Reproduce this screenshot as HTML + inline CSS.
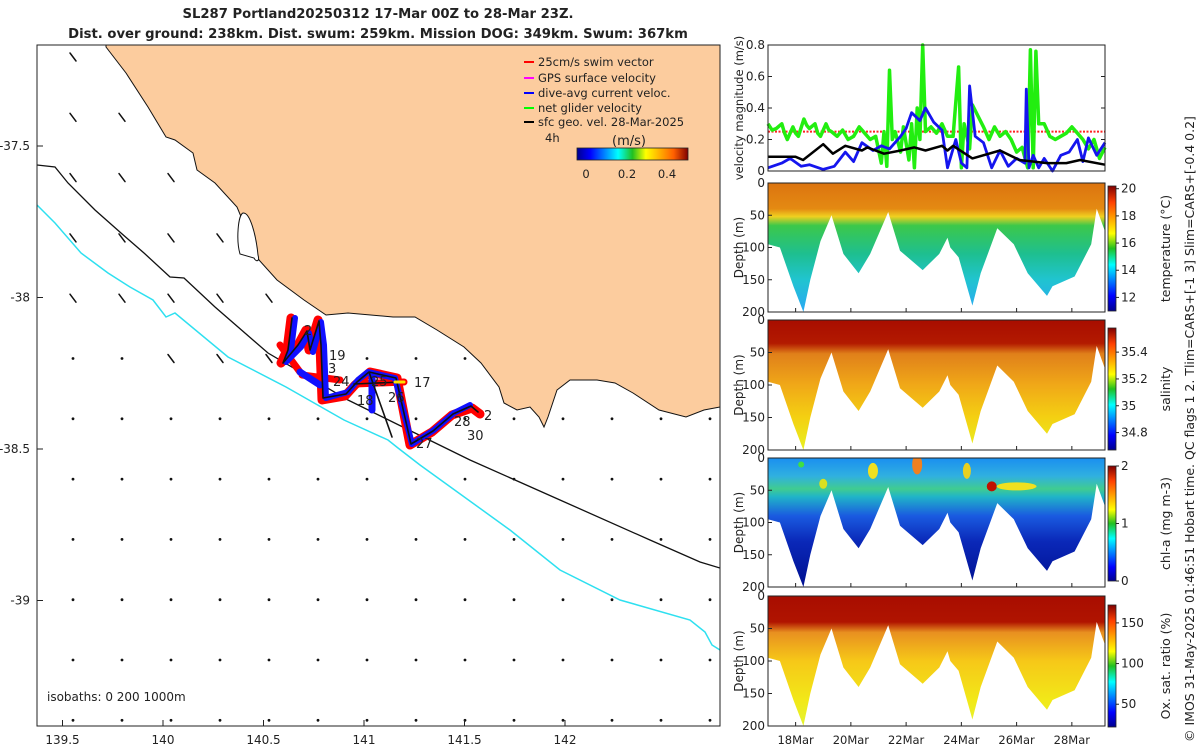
<!DOCTYPE html>
<html><head><meta charset="utf-8"><style>
body{margin:0;background:#fff;font-family:"Liberation Sans",sans-serif}
svg text{font-family:"DejaVu Sans","Liberation Sans",sans-serif;fill:#222}
</style></head><body>
<svg id="c" width="1200" height="750" viewBox="0 0 1200 750" xmlns="http://www.w3.org/2000/svg">
<defs>
<linearGradient id="gT" x1="0" y1="0" x2="0" y2="1">
<stop offset="0" stop-color="#dc7410"/><stop offset="0.2" stop-color="#e48a12"/><stop offset="0.26" stop-color="#f0d020"/><stop offset="0.33" stop-color="#3cc84a"/><stop offset="0.55" stop-color="#1ebf90"/><stop offset="0.75" stop-color="#20c4d0"/><stop offset="1" stop-color="#2aa8f4"/></linearGradient>
<linearGradient id="gS" x1="0" y1="0" x2="0" y2="1">
<stop offset="0" stop-color="#a80d00"/><stop offset="0.18" stop-color="#b31a00"/><stop offset="0.26" stop-color="#e0801a"/><stop offset="0.5" stop-color="#f0a818"/><stop offset="0.75" stop-color="#f4d012"/><stop offset="1" stop-color="#e8f020"/></linearGradient>
<linearGradient id="gC" x1="0" y1="0" x2="0" y2="1">
<stop offset="0" stop-color="#1a8ff0"/><stop offset="0.14" stop-color="#30b0e0"/><stop offset="0.24" stop-color="#40cc90"/><stop offset="0.3" stop-color="#20b4c8"/><stop offset="0.45" stop-color="#1a5ae0"/><stop offset="0.65" stop-color="#0a28b8"/><stop offset="1" stop-color="#000f90"/></linearGradient>
<linearGradient id="gO" x1="0" y1="0" x2="0" y2="1">
<stop offset="0" stop-color="#a80d00"/><stop offset="0.2" stop-color="#b01400"/><stop offset="0.28" stop-color="#e89020"/><stop offset="0.5" stop-color="#f6c818"/><stop offset="0.8" stop-color="#f2e818"/><stop offset="1" stop-color="#e4f430"/></linearGradient>
<linearGradient id="jet" x1="0" y1="1" x2="0" y2="0">
<stop offset="0" stop-color="#00008f"/><stop offset="0.12" stop-color="#0000ff"/><stop offset="0.37" stop-color="#00ffff"/><stop offset="0.5" stop-color="#20c020"/><stop offset="0.62" stop-color="#ffff00"/><stop offset="0.87" stop-color="#ff4000"/><stop offset="1" stop-color="#800000"/></linearGradient>
<linearGradient id="jetH" x1="0" y1="0" x2="1" y2="0">
<stop offset="0" stop-color="#00008f"/><stop offset="0.12" stop-color="#0000ff"/><stop offset="0.37" stop-color="#00ffff"/><stop offset="0.5" stop-color="#20c020"/><stop offset="0.62" stop-color="#ffff00"/><stop offset="0.87" stop-color="#ff6000"/><stop offset="1" stop-color="#800000"/></linearGradient>
<clipPath id="mapclip"><rect x="37" y="45" width="683" height="681"/></clipPath>
</defs>

<text x="378" y="18" text-anchor="middle" font-size="13.2" font-weight="bold">SL287 Portland20250312 17-Mar 00Z to 28-Mar 23Z.</text>
<text x="378" y="38" text-anchor="middle" font-size="13.2" font-weight="bold">Dist. over ground: 238km. Dist. swum: 259km. Mission DOG: 349km. Swum: 367km</text>

<g id="map">
<g clip-path="url(#mapclip)">
<path id="landpath" fill="#fccc9e" stroke="#111" stroke-width="1"/>
<path fill="#fff" stroke="#111" stroke-width="1" d="M240,254 C236,240 238,215 243,213 C250,212 256,235 258,255 C260,262 256,262 254,258 Z"/>
<path fill="none" stroke="#111" stroke-width="1.3" d="M37,165 L55,167 68,183 95,210 121,233 144,253 170,277 184,278 215,307 268,353 348,400 415,433 470,460 560,500 650,540 700,562 720,568"/>
<path fill="none" stroke="#2ee0f0" stroke-width="1.5" d="M37,205 L55,223 81,253 108,273 130,287 153,300 166,317 175,313 228,357 286,387 344,420 388,440 398,448 420,465 510,530 560,570 620,600 690,620 705,632 712,645 720,650"/>
<g id="arrows"></g>
<g fill="none" stroke-linejoin="round" stroke-linecap="round">
<path stroke="#ff0000" stroke-width="9" d="M291,318 L287,350 281,363 298,345 306,330 309,350 318,320 320,345 322,400 345,396 355,385 370,372 397,378 410,445 432,432 452,415 472,408 480,414"/>
<path stroke="#ff0000" stroke-width="7" d="M280,345 L300,372 M302,375 L340,380 M355,384 L404,382"/>
<path stroke="#1010ff" stroke-width="6" d="M295,318 L291,350 286,362 301,347 309,333 313,352 321,322 324,345 326,398 348,392 358,380 368,372 395,378 412,444 434,430 454,413 470,405"/>
<path stroke="#1010ff" stroke-width="7" d="M372,374 L372,410 M300,372 L320,385"/>
<path stroke="#111" stroke-width="1.6" d="M292,318 L288,350 283,363 298,345 307,331 310,350 319,321 321,345 323,398 346,394 357,382 369,372 396,378 411,444 433,431 453,414 471,406 478,412 M354,384 L402,382 M369,372 L392,437"/>
<path stroke="#ffe000" stroke-width="3" d="M395,382 L404,382"/>
</g>
<g font-size="13">
<text x="304" y="335">2</text><text x="329" y="360">19</text><text x="328" y="373">3</text><text x="333" y="386">24</text><text x="371" y="386">25</text><text x="414" y="387">17</text><text x="388" y="402">26</text><text x="357" y="405">18</text><text x="454" y="426">28</text><text x="467" y="440">30</text><text x="416" y="448">27</text><text x="484" y="420">2</text>
</g>
</g>
<rect x="37" y="45" width="683" height="681" fill="none" stroke="#222" stroke-width="1"/>
<g id="mapaxes" font-size="12"></g>
<text x="47" y="701" font-size="12">isobaths: 0   200  1000m</text>
<g font-size="11.5">
<line x1="524" y1="62" x2="534" y2="62" stroke="#f00" stroke-width="2"/><text x="538" y="66">25cm/s swim vector</text>
<line x1="524" y1="78" x2="534" y2="78" stroke="#f0f" stroke-width="2"/><text x="538" y="82">GPS surface velocity</text>
<line x1="524" y1="93" x2="534" y2="93" stroke="#00f" stroke-width="2"/><text x="538" y="97">dive-avg current veloc.</text>
<line x1="524" y1="108" x2="534" y2="108" stroke="#0f0" stroke-width="2"/><text x="538" y="112">net glider velocity</text>
<line x1="524" y1="122" x2="534" y2="122" stroke="#000" stroke-width="2"/><text x="538" y="126">sfc geo. vel. 28-Mar-2025</text>
<text x="545" y="142">4h</text>
<text x="612" y="145" font-size="13">(m/s)</text>
<rect x="577" y="148" width="111" height="12" fill="url(#jetH)" stroke="#222" stroke-width="0.8"/>
<text x="586" y="178" text-anchor="middle">0</text><text x="627" y="178" text-anchor="middle">0.2</text><text x="667" y="178" text-anchor="middle">0.4</text>
</g>
</g>

<g id="vel"></g>
<g id="sections"></g>
<text transform="translate(1194,742) rotate(-90)" font-size="12.5">© IMOS 31-May-2025 01:46:51 Hobart time. QC flags 1  2. Tlim=CARS+[-1 3] Slim=CARS+[-0.4 0.2]</text>
</svg>
<script>
const NS="http://www.w3.org/2000/svg";
function mk(tag,attrs,parent,txt){const e=document.createElementNS(NS,tag);for(const k in attrs)e.setAttribute(k,attrs[k]);if(txt!==undefined)e.textContent=txt;parent.appendChild(e);return e;}

// ---------- map ----------
const coastX=[106,126,148,166,175,193,197,215,237,259,277,304,326,348,393,415,437,464,481,499,504,517,530,539,544,548,557,570,597,615,633,659,686,704,720];
const coastYv=[47,73,107,137,140,153,170,183,207,260,280,300,315,313,317,317,330,347,363,387,403,410,407,417,427,417,390,380,380,383,393,410,417,410,407];
document.getElementById('landpath').setAttribute('d','M106,45 '+coastX.map((x,i)=>'L'+x+','+coastYv[i]).join(' ')+' L720,45 Z');
function coastAt(x){if(x<106)return -1;for(let i=1;i<coastX.length;i++){if(x<=coastX[i]){const f=(x-coastX[i-1])/(coastX[i]-coastX[i-1]);return coastYv[i-1]+f*(coastYv[i]-coastYv[i-1]);}}return 407;}
const lonTicks=[139.5,140,140.5,141,141.5,142];
const latTicks=[-37.5,-38,-38.5,-39];
const lonX=l=>163+(l-140)*201;
const latY=l=>146+(-37.5-l)*303;
const ma=document.getElementById('mapaxes');
lonTicks.forEach(l=>{const x=lonX(l);
 const t=mk('line',{x1:x,y1:726,x2:x,y2:720,stroke:'#222'},ma);
 
 const tx=mk('text',{x:Math.max(x,58),y:744,'text-anchor':'middle'},ma,String(l));
 });
latTicks.forEach(l=>{const y=latY(l);
 const t=mk('line',{x1:37,y1:y,x2:43,y2:y,stroke:'#222'},ma);
 
 const tx=mk('text',{x:30,y:y+4,'text-anchor':'end'},ma,String(l));
 });
const ar=document.getElementById('arrows');
for(let i=0;i<14;i++)for(let j=0;j<12;j++){
 const x=73+49*i,y=57+60.3*j;
 if(y<coastAt(x)+6) continue;
 const big=(y<300&&x<250)||(y>290&&y<360&&x>150&&x<300);
 if(big){
  const a=mk('line',{x1:x-3,y1:y-4,x2:x+3,y2:y+4,stroke:'#111','stroke-width':1.5,'stroke-linecap':'round'},ar);
  
 } else {
  const a=mk('circle',{cx:x,cy:y,r:1.4,fill:'#111'},ar);
  
 }
}

// ---------- velocity panel ----------
const X0=768,X1=1105,DAYS=12.2;
const dayX=d=>X0+d*(X1-X0)/DAYS;
const velY=v=>171-v*(126/0.8);
const velTicks=[0,0.2,0.4,0.6,0.8];
const greenT=[0,0.15,0.3,0.5,0.6,0.7,0.9,1.0,1.1,1.3,1.4,1.5,1.7,1.8,1.9,2.1,2.2,2.3,2.5,2.7,2.9,3.1,3.3,3.5,3.7,3.9,4.1,4.2,4.3,4.4,4.5,4.6,4.8,4.9,5.1,5.2,5.3,5.4,5.5,5.6,5.7,5.9,6.1,6.3,6.5,6.7,6.9,7.0,7.1,7.3,7.4,7.6,7.8,8.0,8.2,8.4,8.6,8.8,9.0,9.2,9.4,9.5,9.6,9.7,9.8,10.0,10.2,10.4,10.6,10.8,11.0,11.2,11.4,11.6,11.8,12.0,12.2];
const greenV=[0.3,0.26,0.27,0.3,0.24,0.2,0.28,0.24,0.22,0.33,0.29,0.27,0.3,0.24,0.22,0.3,0.26,0.25,0.22,0.26,0.2,0.22,0.28,0.24,0.2,0.22,0.05,0.25,0.03,0.64,0.2,0.25,0.12,0.28,0.07,0.3,0.02,0.4,0.2,0.8,0.25,0.28,0.24,0.3,0.22,0.22,0.66,0.02,0.3,0.14,0.42,0.35,0.28,0.2,0.28,0.22,0.25,0.2,0.12,0.15,0.02,0.77,0.02,0.76,0.3,0.3,0.22,0.2,0.22,0.24,0.28,0.24,0.2,0.14,0.2,0.08,0.15];
const blueT=[0,0.5,0.8,1.2,1.5,2,2.4,2.8,3.1,3.4,3.8,4.1,4.4,4.8,5.0,5.2,5.5,5.7,6.0,6.3,6.5,6.8,7.0,7.2,7.3,7.5,7.8,8.1,8.4,8.7,9.0,9.3,9.35,9.45,9.6,9.8,10.0,10.3,10.6,10.9,11.2,11.4,11.6,11.9,12.2];
const blueV=[0.02,0.05,0.08,0.03,0.04,0.01,0.03,0.12,0.06,0.18,0.13,0.16,0.14,0.22,0.27,0.37,0.32,0.40,0.31,0.26,0.02,0.2,0.05,0.02,0.54,0.22,0.18,0.02,0.13,0.03,0.08,0.05,0.52,0.02,0.1,0.02,0.08,0.0,0.1,0.12,0.2,0.06,0.21,0.1,0.18];
const blackT=[0,1,1.27,2,2.35,2.8,3.4,3.6,4.2,4.8,5.3,5.7,6.3,6.5,6.7,7.4,8.4,9.1,10.1,10.8,11.3,12.2];
const blackV=[0.09,0.09,0.07,0.17,0.11,0.16,0.13,0.15,0.11,0.13,0.15,0.13,0.16,0.13,0.16,0.08,0.13,0.07,0.05,0.05,0.07,0.04];
const swimRef=[0.25];
const vel=document.getElementById('vel');
const pts=(T,V)=>T.map((t,i)=>dayX(t).toFixed(1)+','+velY(V[i]).toFixed(1)).join(' ');
let e=mk('line',{x1:X0,x2:X1,y1:velY(swimRef[0]),y2:velY(swimRef[0]),stroke:'#f22','stroke-width':2,'stroke-dasharray':'2,1.5'},vel);

e=mk('polyline',{points:pts(greenT,greenV),fill:'none',stroke:'#22ee10','stroke-width':3.5,'stroke-linejoin':'round'},vel);

e=mk('polyline',{points:pts(blueT,blueV),fill:'none',stroke:'#1515ee','stroke-width':2.8,'stroke-linejoin':'round'},vel);

e=mk('polyline',{points:pts(blackT,blackV),fill:'none',stroke:'#000','stroke-width':2.5,'stroke-linejoin':'round'},vel);

e=mk('rect',{x:X0,y:45,width:X1-X0,height:126,fill:'none',stroke:'#222'},vel);

velTicks.forEach(v=>{const y=velY(v);
 e=mk('line',{x1:X0,x2:X0+4,y1:y,y2:y,stroke:'#222'},vel);
 e=mk('line',{x1:X1,x2:X1-4,y1:y,y2:y,stroke:'#222'},vel);
 e=mk('text',{x:765,y:y+4,'text-anchor':'end','font-size':12},vel,String(v));});
e=mk('text',{transform:'translate(743,108) rotate(-90)','text-anchor':'middle','font-size':11.5},vel,'velocity magnitude (m/s)');


// ---------- sections ----------
const botT=[0,0.43,0.92,1.28,1.53,1.9,2.3,2.73,3.28,3.7,4.35,4.78,5.6,6.2,6.5,6.6,6.9,7.4,7.7,8.3,8.9,9.4,10.1,10.3,11.1,11.7,11.9,12.2];
const botD=[95,100,160,200,150,90,50,110,140,110,45,105,135,110,85,100,115,190,140,70,95,140,175,160,145,95,40,75];
const dateLabels=['18Mar','20Mar','22Mar','24Mar','26Mar','28Mar'];
const dateDays=[1,3,5,7,9,11];
const depthTicks=[0,50,100,150,200];
const panels=[
 {name:'temperature',top:183,h:129,grad:'gT',title:'temperature (°C)',cbTop:186,cbH:125,ticks:[20,18,16,14,12],tmin:11,tmax:20.2},
 {name:'salinity',top:320,h:130,grad:'gS',title:'salinity',cbTop:328,cbH:122,ticks:[35.4,35.2,35,34.8],tmin:34.67,tmax:35.58},
 {name:'chl-a',top:458,h:129,grad:'gC',title:'chl-a (mg m-3)',cbTop:466,cbH:115,ticks:[2,1,0],tmin:0,tmax:2},
 {name:'oxygen',top:596,h:130,grad:'gO',title:'Ox. sat. ratio (%)',cbTop:605,cbH:122,ticks:[150,100,50],tmin:22,tmax:172}
];
const sec=document.getElementById('sections');
panels.forEach((p,pi)=>{
 const g=mk('g',{},sec);
 const dY=d=>p.top+d*p.h/200;
 let dpath='M'+X0+','+p.top+' '+botT.map((t,i)=>'L'+dayX(t).toFixed(1)+','+dY(botD[i]).toFixed(1)).join(' ')+' L'+X1+','+p.top+'Z';
 const cid='clip'+pi;const cp=mk('clipPath',{id:cid},g);mk('path',{d:dpath},cp);
 const f=mk('rect',{x:X0,y:p.top,width:X1-X0,height:p.h,fill:'url(#'+p.grad+')','clip-path':'url(#'+cid+')'},g);
 
 if(p.name==='chl-a'){
  const bx=[[3.8,0.1,5,8,'#f0e020'],[5.4,0.05,5,10,'#f08020'],[7.2,0.1,4,8,'#e8d020'],[8.1,0.22,5,5,'#c01000'],[9.0,0.22,20,4,'#f0e020'],[2.0,0.2,4,5,'#d8e020'],[1.2,0.05,3,3,'#40e040']];
  bx.forEach(b=>{const el=mk('ellipse',{cx:dayX(b[0]),cy:dY(b[1]*200),rx:b[2],ry:b[3],fill:b[4],'clip-path':'url(#'+cid+')'},g);
   });
 }
 const fr=mk('rect',{x:X0,y:p.top,width:X1-X0,height:p.h,fill:'none',stroke:'#222'},g);
 
 depthTicks.forEach(d=>{const y=dY(d);
  let t=mk('line',{x1:X0,x2:X0+4,y1:y,y2:y,stroke:'#222'},g);
  t=mk('text',{x:765,y:y+4,'text-anchor':'end','font-size':12},g,String(d));});
 dateDays.forEach(d=>{const x=dayX(d);
  const t=mk('line',{x1:x,x2:x,y1:p.top+p.h,y2:p.top+p.h-4,stroke:'#222'},g);});
 let t=mk('text',{transform:'translate(743,'+(p.top+p.h/2)+') rotate(-90)','text-anchor':'middle','font-size':12},g,'Depth (m)');
 
 const cb=mk('rect',{x:1108,y:p.cbTop,width:8,height:p.cbH,fill:'url(#jet)',stroke:'#222','stroke-width':0.8},g);
 
 p.ticks.forEach(v=>{const y=p.cbTop+(p.tmax-v)/(p.tmax-p.tmin)*p.cbH;
  let tk=mk('line',{x1:1116,x2:1119,y1:y,y2:y,stroke:'#222'},g);
  tk=mk('text',{x:1121,y:y+4,'font-size':12},g,String(v));});
 t=mk('text',{transform:'translate(1170,'+(p.cbTop+p.cbH/2)+') rotate(-90)','text-anchor':'middle','font-size':12.5},g,p.title);
 
});
dateDays.forEach((d,i)=>{const t=mk('text',{x:dayX(d),y:744,'text-anchor':'middle','font-size':11.5},sec,dateLabels[i]);
 });
</script>
</body></html>
